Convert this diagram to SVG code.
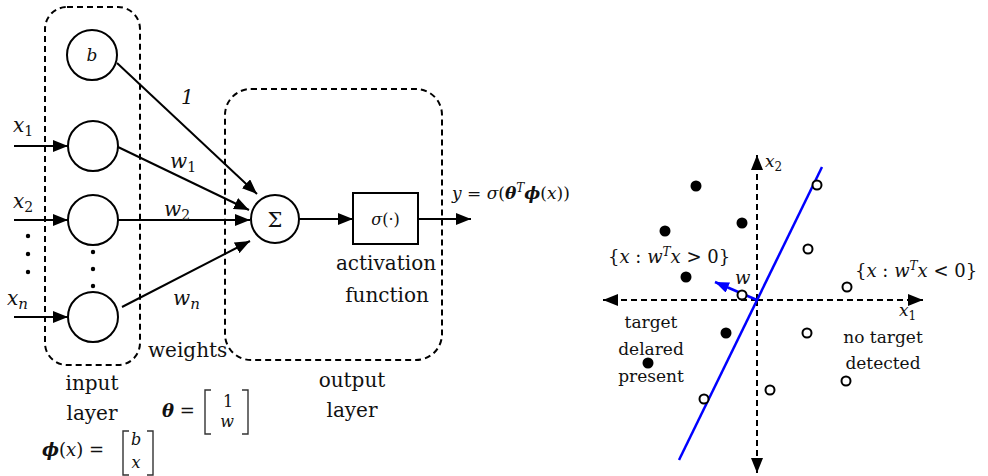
<svg xmlns="http://www.w3.org/2000/svg" width="988" height="476" viewBox="0 0 988 476">
  <defs>
    <style>
      .txt{font-family:"DejaVu Serif","Liberation Serif",serif;fill:#111}
      .m{font-family:"DejaVu Serif","Liberation Serif",serif;font-style:italic;fill:#111}
      .r{font-style:normal}
      .bi{font-weight:bold;font-style:italic}
      .node{fill:#fff;stroke:#000;stroke-width:2}
      .edge{stroke:#000;stroke-width:2;fill:none}
      .group{fill:none;stroke:#000;stroke-width:2;stroke-dasharray:6 4}
      .axis{stroke:#000;stroke-width:2;stroke-dasharray:6 4;fill:none}
      .brk{fill:none;stroke:#333;stroke-width:1.4}
      .dot{fill:#000}
      .open{fill:#fff;stroke:#000;stroke-width:2}
    </style>
    <marker id="ah" markerWidth="15" markerHeight="12" refX="15" refY="6" orient="auto" markerUnits="userSpaceOnUse">
      <path d="M0,0 L15,6 L0,12 z" fill="#000"/>
    </marker>
    <marker id="ahb" markerWidth="14" markerHeight="11" refX="14" refY="5.5" orient="auto" markerUnits="userSpaceOnUse">
      <path d="M0,0 L14,5.5 L0,11 z" fill="#0000ff"/>
    </marker>
  </defs>

  <!-- layer groupings -->
  <g id="input-layer">
    <rect class="group" x="45" y="7" width="95" height="358" rx="22"/>
    <text class="txt" x="92" y="390" font-size="20" text-anchor="middle">input</text>
    <text class="txt" x="92" y="420" font-size="20" text-anchor="middle">layer</text>
  </g>
  <g id="output-layer">
    <rect class="group" x="225" y="89" width="217" height="271" rx="26"/>
    <text class="txt" x="352" y="387" font-size="20" text-anchor="middle">output</text>
    <text class="txt" x="352" y="417" font-size="20" text-anchor="middle">layer</text>
  </g>

  <!-- connectors -->
  <g id="connectors">
    <line class="edge" x1="14" y1="146" x2="68" y2="146" marker-end="url(#ah)"/>
    <line class="edge" x1="14" y1="220" x2="68" y2="220" marker-end="url(#ah)"/>
    <line class="edge" x1="14" y1="317" x2="68" y2="317" marker-end="url(#ah)"/>
    <line class="edge" x1="117" y1="63" x2="257" y2="194" marker-end="url(#ah)"/>
    <line class="edge" x1="118" y1="147" x2="249" y2="210" marker-end="url(#ah)"/>
    <line class="edge" x1="118" y1="220" x2="250" y2="220" marker-end="url(#ah)"/>
    <line class="edge" x1="122" y1="307" x2="250" y2="241" marker-end="url(#ah)"/>
    <line class="edge" x1="299" y1="219" x2="353" y2="219" marker-end="url(#ah)"/>
    <line class="edge" x1="418" y1="219" x2="471" y2="219" marker-end="url(#ah)"/>
  </g>

  <!-- input nodes -->
  <g id="node-b">
    <circle class="node" cx="92" cy="55" r="25"/>
    <text class="m" x="92" y="61" font-size="17" text-anchor="middle">b</text>
  </g>
  <g id="node-x1"><circle class="node" cx="93" cy="146" r="25"/></g>
  <g id="node-x2"><circle class="node" cx="93" cy="220" r="25"/></g>
  <g id="node-xn"><circle class="node" cx="93" cy="317" r="25"/></g>
  <g id="input-dots">
    <circle class="dot" cx="93" cy="252" r="2.2"/>
    <circle class="dot" cx="93" cy="269" r="2.2"/>
    <circle class="dot" cx="93" cy="286" r="2.2"/>
    <circle class="dot" cx="28" cy="236" r="2.2"/>
    <circle class="dot" cx="28" cy="254" r="2.2"/>
    <circle class="dot" cx="28" cy="272" r="2.2"/>
  </g>

  <!-- input labels -->
  <g id="input-labels">
    <text class="m" x="13" y="132" font-size="20">x<tspan class="r" font-size="14" dy="4">1</tspan></text>
    <text class="m" x="13" y="208" font-size="20">x<tspan class="r" font-size="14" dy="4">2</tspan></text>
    <text class="m" x="7" y="305" font-size="20">x<tspan font-size="15" dy="4">n</tspan></text>
  </g>

  <!-- weight labels -->
  <g id="weight-labels">
    <text class="m" x="181" y="104" font-size="20">1</text>
    <text class="m" x="170" y="168" font-size="20">w<tspan class="r" font-size="14" dy="4">1</tspan></text>
    <text class="m" x="164" y="216" font-size="20">w<tspan class="r" font-size="14" dy="4">2</tspan></text>
    <text class="m" x="173" y="305" font-size="20">w<tspan font-size="15" dy="4">n</tspan></text>
    <text class="txt" x="148" y="357" font-size="20">weights</text>
  </g>

  <!-- summation node -->
  <g id="node-sum">
    <circle class="node" cx="275" cy="219" r="24"/>
    <text class="txt" x="275" y="227" font-size="21" text-anchor="middle">Σ</text>
  </g>

  <!-- activation node -->
  <g id="node-activation">
    <rect class="node" x="353" y="193" width="65" height="51"/>
    <text class="m" x="385.5" y="225" font-size="16" text-anchor="middle">σ<tspan class="r">(·)</tspan></text>
    <text class="txt" x="386" y="270" font-size="20" text-anchor="middle">activation</text>
    <text class="txt" x="387" y="302" font-size="20" text-anchor="middle">function</text>
  </g>

  <!-- output expression -->
  <g id="output-label">
    <text class="m" x="452" y="199" font-size="17">y<tspan class="r"> = </tspan>σ<tspan class="r">(</tspan><tspan class="bi">θ</tspan><tspan font-size="12" dy="-7">T</tspan><tspan class="bi" dy="7">ϕ</tspan><tspan class="r">(</tspan>x<tspan class="r">))</tspan></text>
  </g>

  <!-- parameter vectors -->
  <g id="theta-vector">
    <text class="m" x="162" y="417" font-size="18"><tspan class="bi">θ</tspan><tspan class="r"> =</tspan></text>
    <path class="brk" d="M211,390 H205 V434 H211"/>
    <path class="brk" d="M242,390 H248 V434 H242"/>
    <text class="m r" x="228" y="407" font-size="16" text-anchor="middle">1</text>
    <text class="m" x="227" y="427" font-size="16" text-anchor="middle">w</text>
  </g>
  <g id="phi-vector">
    <text class="m" x="42" y="456" font-size="18"><tspan class="bi">ϕ</tspan><tspan class="r">(</tspan>x<tspan class="r">) =</tspan></text>
    <path class="brk" d="M129,431 H123 V475 H129"/>
    <path class="brk" d="M147,431 H153 V475 H147"/>
    <text class="m" x="136" y="445" font-size="16" text-anchor="middle">b</text>
    <text class="m" x="136" y="468" font-size="16" text-anchor="middle">x</text>
  </g>

  <!-- feature-space plot -->
  <g id="axes">
    <line class="axis" x1="757" y1="300" x2="603" y2="300" marker-end="url(#ah)"/>
    <line class="axis" x1="757" y1="300" x2="923" y2="300" marker-end="url(#ah)"/>
    <line class="axis" x1="757" y1="300" x2="757" y2="155" marker-end="url(#ah)"/>
    <line class="axis" x1="757" y1="300" x2="757" y2="473" marker-end="url(#ah)"/>
    <text class="m" x="765" y="167" font-size="17">x<tspan class="r" font-size="12" dy="4">2</tspan></text>
    <text class="m" x="899" y="316" font-size="17">x<tspan class="r" font-size="12" dy="4">1</tspan></text>
  </g>

  <g id="decision-boundary">
    <line x1="679" y1="460" x2="822" y2="167" stroke="#0000ff" stroke-width="2.5"/>
    <line x1="757" y1="300" x2="715" y2="282" stroke="#0000ff" stroke-width="2.5" marker-end="url(#ahb)"/>
    <text class="m" x="735" y="284" font-size="18">w</text>
  </g>

  <g id="samples-present">
    <circle class="dot" cx="696" cy="186" r="5.5"/>
    <circle class="dot" cx="742" cy="223" r="5.5"/>
    <circle class="dot" cx="665" cy="231" r="5.5"/>
    <circle class="dot" cx="686" cy="277" r="5.5"/>
    <circle class="dot" cx="726" cy="333" r="5.5"/>
    <circle class="dot" cx="648" cy="363" r="5.5"/>
  </g>
  <g id="samples-absent">
    <circle class="open" cx="742" cy="295" r="4.5"/>
    <circle class="open" cx="817" cy="185" r="4.5"/>
    <circle class="open" cx="808" cy="249" r="4.5"/>
    <circle class="open" cx="847" cy="287" r="4.5"/>
    <circle class="open" cx="807" cy="333" r="4.5"/>
    <circle class="open" cx="770" cy="390" r="4.5"/>
    <circle class="open" cx="846" cy="381" r="4.5"/>
    <circle class="open" cx="704" cy="399" r="4.5"/>
  </g>

  <g id="region-labels">
    <text class="m" x="608" y="263" font-size="18"><tspan class="r">{</tspan>x<tspan class="r"> : </tspan>w<tspan font-size="12" dy="-7">T</tspan><tspan dy="7">x</tspan><tspan class="r"> &gt; 0}</tspan></text>
    <text class="m" x="855" y="277" font-size="18"><tspan class="r">{</tspan>x<tspan class="r"> : </tspan>w<tspan font-size="12" dy="-7">T</tspan><tspan dy="7">x</tspan><tspan class="r"> &lt; 0}</tspan></text>
    <text class="txt" x="651" y="328" font-size="17" text-anchor="middle">target</text>
    <text class="txt" x="651" y="355" font-size="17" text-anchor="middle">delared</text>
    <text class="txt" x="651" y="382" font-size="17" text-anchor="middle">present</text>
    <text class="txt" x="883" y="343" font-size="17" text-anchor="middle">no target</text>
    <text class="txt" x="883" y="369" font-size="17" text-anchor="middle">detected</text>
  </g>
</svg>
